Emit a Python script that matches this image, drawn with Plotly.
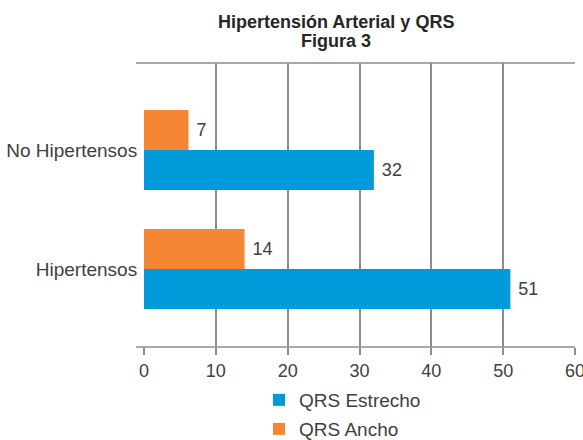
import plotly.graph_objects as go

categories = ["Hipertensos", "No Hipertensos"]
estrecho_values = [51, 32]
ancho_values = [14, 6.2]
estrecho_labels = ["51", "32"]
ancho_labels = ["14", "7"]
x_ticks = [0, 10, 20, 30, 40, 50, 60]
title_lines = ["Hipertensión Arterial y QRS", "Figura 3"]

BLUE = "#0099D9"
ORANGE = "#F58634"
GRID = "#8C8C8C"
TXT = "#404040"
FONT = "Liberation Sans, Arial, sans-serif"

W, H = 583, 440
L, R, T, B = 144, 8, 63, 93
plot_w = W - L - R
plot_h = H - T - B


def py(pix):
    return (H - B - pix) / plot_h


def px(pix):
    return (pix - L) / plot_w


fig = go.Figure()
fig.add_trace(go.Bar(
    y=categories, x=estrecho_values, orientation="h", name="QRS Estrecho",
    marker=dict(color=BLUE, line=dict(width=0)),
    text=estrecho_labels, texttemplate=" %{text}", textposition="outside", cliponaxis=False,
    textfont=dict(size=18, color=TXT, family=FONT), legend="legend",
))
fig.add_trace(go.Bar(
    y=categories, x=ancho_values, orientation="h", name="QRS Ancho",
    marker=dict(color=ORANGE, line=dict(width=0)),
    text=ancho_labels, texttemplate=" %{text}", textposition="outside", cliponaxis=False,
    textfont=dict(size=18, color=TXT, family=FONT), legend="legend2",
))

ext = 8 / plot_w
leg_common = dict(
    x=259 / W, xref="container", xanchor="left", yref="container", yanchor="middle",
    orientation="v", font=dict(size=19, color=TXT, family=FONT),
    bgcolor="rgba(0,0,0,0)", itemwidth=30,
)
fig.update_layout(
    width=W, height=H,
    margin=dict(l=L, r=R, t=T, b=B, autoexpand=False),
    paper_bgcolor="white", plot_bgcolor="white",
    barmode="group", bargap=0.328, bargroupgap=0,
    font=dict(family=FONT, color=TXT, size=18),
    xaxis=dict(
        range=[0, 60], tickvals=x_ticks, showgrid=True, gridcolor=GRID, gridwidth=1.5,
        zeroline=False, showline=False, ticks="outside", ticklen=7, tickcolor=GRID,
        tickwidth=1.5, tickfont=dict(size=18, color=TXT), fixedrange=True,
        ticklabeloverflow="allow",
    ),
    yaxis=dict(
        type="category", categoryorder="array", categoryarray=categories,
        range=[-0.655, 1.731], showgrid=False, zeroline=False, showline=False,
        ticks="outside", ticklen=2, tickcolor="rgba(0,0,0,0)",
        tickfont=dict(size=19, color=TXT),
    ),
    legend=dict(y=1 - 400 / H, **leg_common),
    legend2=dict(y=1 - 429 / H, **leg_common),
    showlegend=True,
    annotations=[
        dict(text="<b>%s</b>" % title_lines[0], xref="paper", yref="paper",
             x=px(336), y=py(22), xanchor="center", yanchor="middle", showarrow=False,
             font=dict(size=18, color="#262626", family=FONT)),
        dict(text="<b>%s</b>" % title_lines[1], xref="paper", yref="paper",
             x=px(336), y=py(41), xanchor="center", yanchor="middle", showarrow=False,
             font=dict(size=18, color="#262626", family=FONT)),
    ],
    shapes=[
        dict(type="line", xref="paper", yref="paper", x0=-ext, x1=1, y0=1, y1=1,
             line=dict(color=GRID, width=1.5)),
        dict(type="line", xref="paper", yref="paper", x0=-ext, x1=1, y0=0, y1=0,
             line=dict(color=GRID, width=1.5)),
    ],
)

fig.write_html("out.html", post_script="document.body.style.margin='0';",
               config={"displayModeBar": False})
